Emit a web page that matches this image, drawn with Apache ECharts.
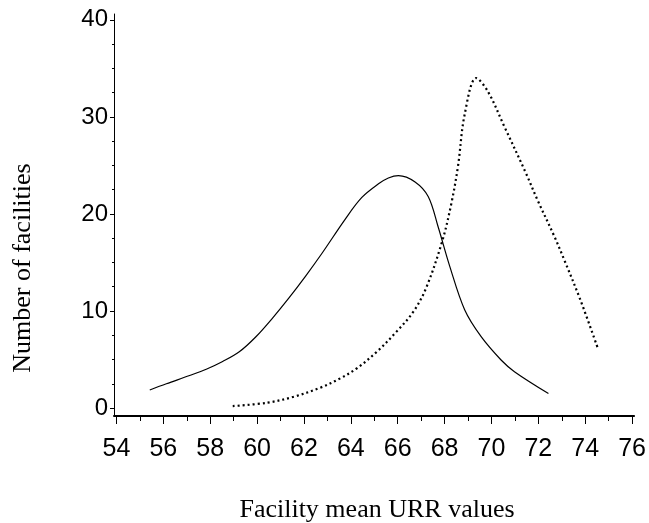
<!DOCTYPE html>
<html>
<head>
<meta charset="utf-8">
<script src="https://cdn.jsdelivr.net/npm/echarts@6/dist/echarts.min.js"></script>
<style>html,body{margin:0;padding:0;background:#fff;}#c{width:649px;height:523px;}</style>
</head>
<body>
<div id="c"></div>
<script>
// Data
var solidX = [55.42, 56.13, 57.12, 57.83, 58.53, 59.24, 59.95, 60.65, 61.36, 62.07, 62.77, 63.77, 64.47, 65.18, 65.6, 66.03, 66.74, 67.3, 67.72, 68.22, 68.86, 69.56, 70.41, 70.98, 72.43];
var solidY = [1.86, 2.5, 3.35, 4.0, 4.8, 5.8, 7.35, 9.25, 11.35, 13.6, 15.95, 19.5, 21.7, 23.1, 23.7, 23.95, 23.3, 21.8, 18.7, 14.6, 10.1, 7.35, 4.95, 3.75, 1.5];
var dottedX = [58.96, 60.44, 61.57, 62.7, 63.55, 64.26, 65.11, 65.96, 66.66, 67.2, 67.9, 68.29, 68.57, 68.86, 69.35, 69.85, 70.55, 71.47, 71.97, 72.68, 73.1, 73.8, 74.56];
var dottedY = [0.2, 0.55, 1.17, 2.1, 3.06, 4.1, 5.8, 7.9, 9.9, 12.3, 17.2, 21.1, 24.9, 30.3, 34.0, 32.6, 29.0, 24.2, 21.4, 17.7, 15.3, 11.1, 6.0];
var xTicks = [54, 56, 58, 60, 62, 64, 66, 68, 70, 72, 74, 76];
var xMinorTicks = [55, 57, 59, 61, 63, 65, 67, 69, 71, 73, 75];
var yTicks = [0, 10, 20, 30, 40];
var yMinorTicks = [2.5, 5, 7.5, 12.5, 15, 17.5, 22.5, 25, 27.5, 32.5, 35, 37.5];
var xTitle = 'Facility mean URR values';
var yTitle = 'Number of facilities';

function pairs(xs, ys) { return xs.map(function (x, i) { return [x, ys[i]]; }); }

var XMIN = 53.894, XMAX = 76.085, YMIN = -0.82, YMAX = 40.6;
var NUMFONT = '"Liberation Sans", Arial, sans-serif';
var chart = echarts.init(document.getElementById('c'), null, {renderer: 'canvas'});
chart.setOption({
  animation: false,
  backgroundColor: '#fff',
  grid: {left: 114, right: 12, top: 14, bottom: 107, containLabel: false},
  xAxis: [{
    type: 'value', min: XMIN, max: XMAX, position: 'bottom',
    axisLine: {show: true, onZero: false, lineStyle: {color: '#000', width: 2}},
    axisTick: {show: true, customValues: xTicks, length: 8, lineStyle: {color: '#000', width: 1}},
    axisLabel: {show: true, customValues: xTicks, color: '#000', fontSize: 25, fontFamily: NUMFONT, margin: 21},
    splitLine: {show: false}
  }, {
    type: 'value', min: XMIN, max: XMAX, position: 'bottom',
    axisLine: {show: false, onZero: false},
    axisTick: {show: true, customValues: xMinorTicks, length: 5, lineStyle: {color: '#000', width: 1}},
    axisLabel: {show: false},
    splitLine: {show: false}
  }],
  yAxis: [{
    type: 'value', min: YMIN, max: YMAX, position: 'left',
    axisLine: {show: true, onZero: false, lineStyle: {color: '#000', width: 1}},
    axisTick: {show: true, customValues: yTicks, length: 4, lineStyle: {color: '#000', width: 1}},
    axisLabel: {show: true, customValues: yTicks, color: '#000', fontSize: 24, fontFamily: NUMFONT, margin: 6, padding: [5, 0, 0, 0]},
    splitLine: {show: false}
  }, {
    type: 'value', min: YMIN, max: YMAX, position: 'left',
    axisLine: {show: false, onZero: false},
    axisTick: {show: true, customValues: yMinorTicks, length: 2, lineStyle: {color: '#000', width: 1}},
    axisLabel: {show: false},
    splitLine: {show: false}
  }],
  graphic: [{
    type: 'text', x: 377, y: 510,
    style: {text: xTitle, font: '26px "Liberation Serif"', fill: '#000', textAlign: 'center', textVerticalAlign: 'middle'}
  }, {
    type: 'text', x: 23, y: 268, rotation: Math.PI / 2,
    style: {text: yTitle, font: '26px "Liberation Serif"', fill: '#000', textAlign: 'center', textVerticalAlign: 'middle'}
  }],
  series: [{
    type: 'line', xAxisIndex: 0, yAxisIndex: 0,
    data: pairs(solidX, solidY), smooth: 0.35, showSymbol: false,
    lineStyle: {color: '#000', width: 1.2, type: 'solid'}
  }, {
    type: 'line', xAxisIndex: 0, yAxisIndex: 0,
    data: pairs(dottedX, dottedY), smooth: 0.35, showSymbol: false,
    lineStyle: {color: '#000', width: 2.2, type: [2, 3]}
  }]
});
</script>
</body>
</html>
